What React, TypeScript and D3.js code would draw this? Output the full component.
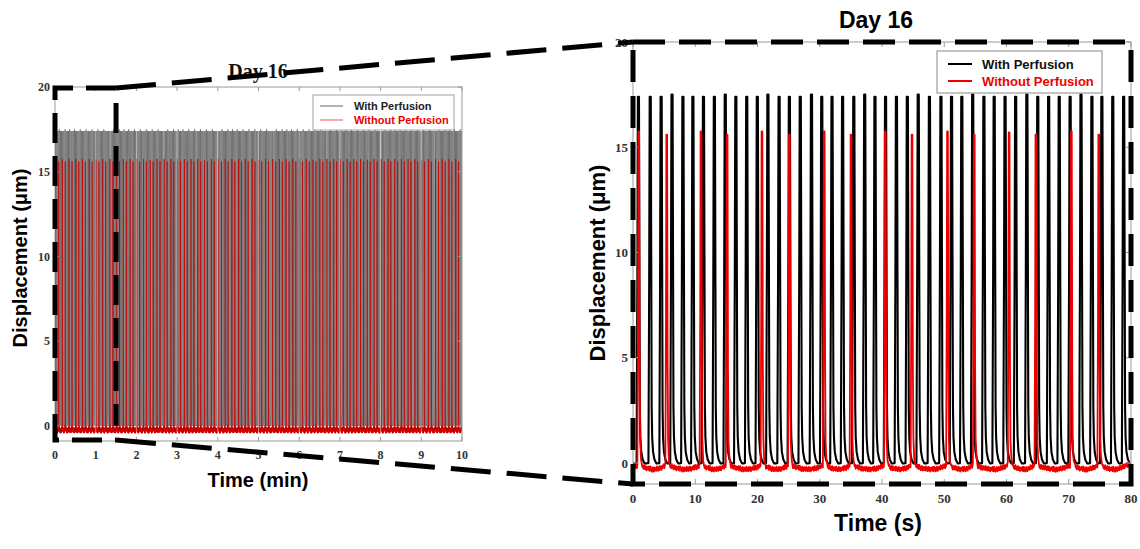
import React from 'react';
import * as d3 from 'd3';

// ---- data ----
// peak (beat) times within the 80 s zoom window, seconds
const BLACK_PEAKS_S = [0.7, 2.6, 4.35, 6.1, 7.85, 9.45, 11.15, 12.9, 14.65, 16.35, 18.1, 19.8, 21.5, 23.3, 24.95, 26.7, 28.5, 30.15, 31.8, 33.5, 35.3, 37.05, 38.7, 40.4, 42.15, 43.9, 45.65, 47.45, 49.3, 51.0, 52.65, 54.4, 56.2, 57.85, 59.6, 61.3, 63.1, 64.85, 66.6, 68.3, 70.05, 71.8, 73.55, 75.15, 76.9, 78.65];
const BLACK_HEIGHTS = [17.4, 17.4, 17.4, 17.5, 17.4, 17.4, 17.4, 17.4, 17.5, 17.4, 17.4, 17.4, 17.5, 17.4, 17.4, 17.4, 17.5, 17.4, 17.4, 17.4, 17.4, 17.5, 17.4, 17.4, 17.4, 17.4, 17.5, 17.4, 17.4, 17.4, 17.4, 17.5, 17.4, 17.4, 17.4, 17.4, 17.5, 17.4, 17.4, 17.4, 17.4, 17.5, 17.4, 17.4, 17.4, 17.4];
const RED_PEAKS_S = [0.8, 5.3, 10.8, 15.0, 20.6, 25.0, 30.6, 34.9, 40.4, 44.7, 50.4, 54.7, 60.3, 64.6, 70.3, 74.7];
const RED_HEIGHTS = [15.75, 15.6, 15.75, 15.6, 15.75, 15.6, 15.75, 15.6, 15.75, 15.6, 15.75, 15.6, 15.7, 15.6, 15.75, 15.6];
// beat waveform: [seconds from beat onset, fraction of peak height]
const BLACK_SHAPE: [number, number][] = [[-0.12, 0], [0.0, 0.5], [0.08, 1], [0.26, 1], [0.34, 0.5], [0.4, 0.15], [0.48, 0.07], [0.62, 0.03], [0.85, 0.01], [1.15, 0]];
const RED_SHAPE: [number, number][] = [[-0.1, 0], [0.0, 0.45], [0.06, 1], [0.18, 1], [0.26, 0.3], [0.34, 0.08], [0.48, 0.02], [0.7, 0]];
// baseline between consecutive beats (evenly spaced through the interval), µm
const BLACK_BASE_PROFILE = [0.04, 0.02, 0.0, -0.02, -0.02, 0.0];
const RED_BASE_PROFILE = [-0.05, -0.15, -0.22, -0.27, -0.3, -0.3, -0.27, -0.2, -0.1];
const RED_NOISE = [0.06, -0.04, 0.09, -0.08, 0.02, 0.1, -0.06, 0.03, -0.1, 0.05, 0.08, -0.03, -0.09, 0.04, 0.07, -0.05, 0.01, -0.07, 0.1, -0.02, 0.05, -0.08, 0.03, 0.09, -0.06, -0.01, 0.07, -0.09, 0.04, -0.04];
const WINDOW_S = 80;
const OVERVIEW_S = 600;
const ZOOM_MIN = 1.5;

const LEFT_X_TICKS = [0, 1, 2, 3, 4, 5, 6, 7, 8, 9, 10];
const Y_TICKS = [0, 5, 10, 15, 20];
const RIGHT_X_TICKS = [0, 10, 20, 30, 40, 50, 60, 70, 80];
const TITLE = 'Day 16';
const LEGEND = ['With Perfusion', 'Without Perfusion'];

type Pt = [number, number];

function profileAt(profile: number[], phase: number) {
  const n = profile.length - 1;
  const p = Math.max(0, Math.min(1, phase)) * n;
  const i = Math.min(n - 1, Math.floor(p));
  const f = p - i;
  return profile[i] * (1 - f) + profile[i + 1] * f;
}

function buildTrace(peaks: number[], heights: number[], shape: Pt[], profile: number[], noise: number[], step: number, tEnd: number, noiseScale = 1): Pt[] {
  const startOff = shape[0][0];
  const endOff = shape[shape.length - 1][0];
  const gap = peaks[1] - peaks[0];
  const base = (t: number) => {
    const k = d3.bisectRight(peaks, t) - 1;
    const prev = k >= 0 ? peaks[k] : peaks[0] - gap;
    const next = k + 1 < peaks.length ? peaks[k + 1] : prev + gap;
    const nz = noise.length ? noise[Math.abs(Math.round(t / step)) % noise.length] * noiseScale : 0;
    return profileAt(profile, (t - prev) / (next - prev)) + nz;
  };
  const pts: Pt[] = [];
  let j = 0;
  for (let s = 0; s * step <= tEnd + 1e-9; s++) {
    const t = s * step;
    while (j < peaks.length && peaks[j] + endOff < t) j++;
    if (j < peaks.length && t >= peaks[j] + startOff && t <= peaks[j] + endOff) continue;
    pts.push([t, base(t)]);
  }
  peaks.forEach((p, i) => {
    shape.forEach(([dt, fr]) => {
      const t = p + dt;
      if (t < 0 || t > tEnd) return;
      const b = base(t);
      pts.push([t, b + (heights[i] - b) * fr]);
    });
  });
  pts.sort((a, b) => a[0] - b[0]);
  return pts;
}

function tile(values: number[], period: number, total: number) {
  const out: number[] = [];
  for (let k = 0; k * period < total; k++) {
    values.forEach((v) => { if (v + k * period < total) out.push(v + k * period); });
  }
  return out;
}
function tileHeights(times: number[], heights: number[], period: number, total: number) {
  const out: number[] = [];
  for (let k = 0; k * period < total; k++) {
    times.forEach((v, i) => { if (v + k * period < total) out.push(heights[i]); });
  }
  return out;
}

const serif = '"Liberation Serif", "Times New Roman", serif';
const sans = '"Liberation Sans", Arial, sans-serif';

export default function App() {
  const xL = d3.scaleLinear().domain([0, 10]).range([55, 462]);
  const yL = d3.scaleLinear().domain([-0.9, 20]).range([441, 87]);
  const xR = d3.scaleLinear().domain([0, 80]).range([633, 1131]);
  const yR = d3.scaleLinear().domain([-1, 20]).range([484, 42]);

  const blackR = buildTrace(BLACK_PEAKS_S, BLACK_HEIGHTS, BLACK_SHAPE, BLACK_BASE_PROFILE, [], 0.05, WINDOW_S);
  const redR = buildTrace(RED_PEAKS_S, RED_HEIGHTS, RED_SHAPE, RED_BASE_PROFILE, RED_NOISE, 0.08, WINDOW_S, 1.2);
  const lineR = d3.line<Pt>().x((d) => xR(d[0])).y((d) => yR(d[1]));

  const bPeaksL = tile(BLACK_PEAKS_S, WINDOW_S, OVERVIEW_S);
  const bHL = tileHeights(BLACK_PEAKS_S, BLACK_HEIGHTS, WINDOW_S, OVERVIEW_S);
  const rPeaksL = tile(RED_PEAKS_S, WINDOW_S, OVERVIEW_S);
  const rHL = tileHeights(RED_PEAKS_S, RED_HEIGHTS, WINDOW_S, OVERVIEW_S);
  const blackL = buildTrace(bPeaksL, bHL, BLACK_SHAPE, BLACK_BASE_PROFILE, [], 0.25, OVERVIEW_S);
  const redL = buildTrace(rPeaksL, rHL, RED_SHAPE, RED_BASE_PROFILE, RED_NOISE, 0.08, OVERVIEW_S, 1.6);
  const lineL = d3.line<Pt>().x((d) => xL(d[0] / 60)).y((d) => yL(d[1]));

  const [lx0, lx1] = xL.range();
  const [ly0, ly1] = yL.range();
  const [rx0, rx1] = xR.range();
  const [ry0, ry1] = yR.range();
  const zx = xL(ZOOM_MIN);
  const dash = '30,13';

  return (
    <svg width={1140} height={549} style={{ display: 'block', position: 'absolute', left: 0, top: 0, background: '#fff' }}>
      <defs>
        <clipPath id="clipL"><rect x={lx0} y={ly1} width={lx1 - lx0} height={ly0 - ly1} /></clipPath>
        <clipPath id="clipR"><rect x={rx0} y={ry1} width={rx1 - rx0} height={ry0 - ry1} /></clipPath>
      </defs>
      <rect x={0} y={0} width={1140} height={549} fill="#fff" />

      {/* ---------- LEFT overview ---------- */}
      <g clipPath="url(#clipL)">
        <path d={lineL(blackL) || ''} fill="none" stroke="#3a3a3a" strokeWidth={0.5} />
        <path d={lineL(redL) || ''} fill="none" stroke="#c80000" strokeWidth={0.7} />
        {LEFT_X_TICKS.slice(1, -1).map((m) => (
          <line key={m} x1={xL(m)} x2={xL(m)} y1={yL(17.6)} y2={yL(-0.4)} stroke="#fff" strokeOpacity={0.45} strokeWidth={1} />
        ))}
      </g>
      <rect x={lx0} y={ly1} width={lx1 - lx0} height={ly0 - ly1} fill="none" stroke="#999" strokeWidth={1} />
      {LEFT_X_TICKS.map((m) => (
        <g key={m}>
          <line x1={xL(m)} x2={xL(m)} y1={ly0} y2={ly0 - 4} stroke="#999" />
          <line x1={xL(m)} x2={xL(m)} y1={ly1} y2={ly1 + 4} stroke="#999" />
          <text x={xL(m)} y={459} textAnchor="middle" fontFamily={serif} fontWeight="bold" fontSize={12} fill="#333">{m}</text>
        </g>
      ))}
      {Y_TICKS.map((v) => (
        <g key={v}>
          <line x1={lx0} x2={lx0 + 4} y1={yL(v)} y2={yL(v)} stroke="#999" />
          <line x1={lx1} x2={lx1 - 4} y1={yL(v)} y2={yL(v)} stroke="#999" />
          <text x={50} y={yL(v)} dy="0.35em" textAnchor="end" fontFamily={serif} fontWeight="bold" fontSize={12} fill="#333">{v}</text>
        </g>
      ))}
      <text x={258} y={78} textAnchor="middle" fontFamily={serif} fontWeight="bold" fontSize={20} fill="#111">{TITLE}</text>
      <text x={258} y={487} textAnchor="middle" fontFamily={sans} fontWeight="bold" fontSize={20} fill="#000">Time (min)</text>
      <text transform={`translate(27,${258}) rotate(-90)`} textAnchor="middle" fontFamily={sans} fontWeight="bold" fontSize={20} fill="#000">Displacement (μm)</text>
      <g>
        <rect x={313} y={95} width={141} height={35} fill="#fff" stroke="#888" strokeWidth={0.8} />
        <line x1={320} x2={343} y1={106} y2={106} stroke="#666" strokeWidth={1} />
        <line x1={320} x2={343} y1={120} y2={120} stroke="#f55" strokeWidth={1} />
        <text x={354} y={106} dy="0.35em" fontFamily={sans} fontWeight="bold" fontSize={11} fill="#222">{LEGEND[0]}</text>
        <text x={354} y={120} dy="0.35em" fontFamily={sans} fontWeight="bold" fontSize={11} fill="#e00">{LEGEND[1]}</text>
      </g>

      {/* ---------- RIGHT zoom ---------- */}
      <g clipPath="url(#clipR)">
        <path d={lineR(blackR) || ''} fill="none" stroke="#000" strokeWidth={2.1} strokeLinejoin="round" />
        <path d={lineR(redR) || ''} fill="none" stroke="#ee0000" strokeWidth={1.8} strokeLinejoin="round" />
      </g>
      <rect x={rx0} y={ry1} width={rx1 - rx0} height={ry0 - ry1} fill="none" stroke="#999" strokeWidth={1} />
      {RIGHT_X_TICKS.map((s) => (
        <g key={s}>
          <line x1={xR(s)} x2={xR(s)} y1={ry0} y2={ry0 - 5} stroke="#999" />
          <line x1={xR(s)} x2={xR(s)} y1={ry1} y2={ry1 + 5} stroke="#999" />
          <text x={xR(s)} y={503} textAnchor="middle" fontFamily={serif} fontWeight="bold" fontSize={13} fill="#333">{s}</text>
        </g>
      ))}
      {Y_TICKS.map((v) => (
        <g key={v}>
          <line x1={rx0} x2={rx0 + 5} y1={yR(v)} y2={yR(v)} stroke="#999" />
          <line x1={rx1} x2={rx1 - 5} y1={yR(v)} y2={yR(v)} stroke="#999" />
          <text x={628} y={yR(v)} dy="0.35em" textAnchor="end" fontFamily={serif} fontWeight="bold" fontSize={13} fill="#333">{v}</text>
        </g>
      ))}
      <text x={876} y={28} textAnchor="middle" fontFamily={sans} fontWeight="bold" fontSize={23} fill="#000">{TITLE}</text>
      <text x={878} y={531} textAnchor="middle" fontFamily={sans} fontWeight="bold" fontSize={23} fill="#000">Time (s)</text>
      <text transform={`translate(605,${263}) rotate(-90)`} textAnchor="middle" fontFamily={sans} fontWeight="bold" fontSize={22} fill="#000">Displacement (μm)</text>
      <g>
        <rect x={937} y={51} width={165} height={42} fill="#fff" stroke="#888" strokeWidth={1} />
        <line x1={948} x2={972} y1={64} y2={64} stroke="#000" strokeWidth={2} />
        <line x1={948} x2={972} y1={81} y2={81} stroke="#ee0000" strokeWidth={2} />
        <text x={982} y={64} dy="0.35em" fontFamily={sans} fontWeight="bold" fontSize={13} fill="#111">{LEGEND[0]}</text>
        <text x={982} y={81} dy="0.35em" fontFamily={sans} fontWeight="bold" fontSize={13} fill="#ee0000">{LEGEND[1]}</text>
      </g>

      {/* ---------- zoom annotation (dashed) ---------- */}
      <g fill="none" stroke="#000" strokeWidth={5}>
        <rect x={rx0} y={ry1} width={rx1 - rx0} height={ry0 - ry1} strokeDasharray="32,14" />
        <path d={`M${zx},${ly1 + 1} L${lx0},${ly1 + 1} L${lx0},${ly0 - 1} L${zx},${ly0 - 1}`} strokeDasharray={dash} />
        <line x1={zx} x2={zx} y1={ly1 + 16} y2={yL(0)} strokeDasharray={dash} />
        <line x1={zx} y1={ly1 + 1} x2={rx0} y2={ry1} strokeDasharray="40,16" />
        <line x1={zx} y1={ly0 - 1} x2={rx0} y2={ry0} strokeDasharray="40,16" />
      </g>
    </svg>
  );
}
